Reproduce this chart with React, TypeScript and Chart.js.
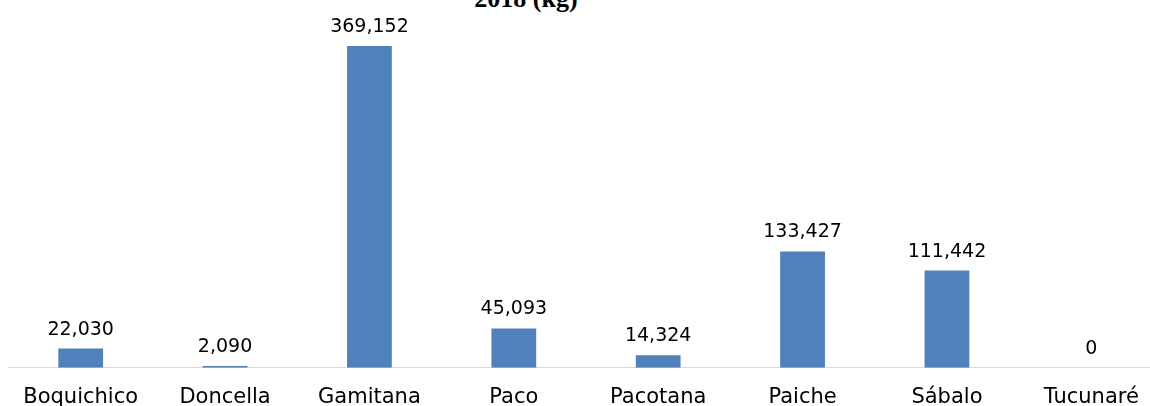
import { useEffect, useRef } from "react";
import { Chart, registerables } from "chart.js";

Chart.register(...registerables);

const species = ["Boquichico", "Doncella", "Gamitana", "Paco", "Pacotana", "Paiche", "Sábalo", "Tucunaré"];
const production = [22030, 2090, 369152, 45093, 14324, 133427, 111442, 0];
const titleLines = ["Producción de especies amazónicas", "2018 (kg)"];

const labelFont = "'DejaVu Sans', sans-serif";

// value labels over each bar
const barValues = {
  id: "barValues",
  afterDatasetsDraw(chart: any) {
    const ctx = chart.ctx;
    const meta = chart.getDatasetMeta(0);
    ctx.save();
    ctx.font = `19px ${labelFont}`;
    ctx.fillStyle = "#000";
    ctx.textAlign = "center";
    ctx.textBaseline = "alphabetic";
    meta.data.forEach((bar: any, i: number) => {
      ctx.fillText(production[i].toLocaleString("en-US"), bar.x, bar.y - 14);
    });
    ctx.restore();
  },
};

const App = () => {
  const canvasRef = useRef<any>();

  useEffect(() => {
    const config: any = {
      type: "bar",
      data: {
        labels: species,
        datasets: [
          {
            data: production,
            backgroundColor: "#4F81BD",
            categoryPercentage: 1,
            barPercentage: 0.31,
          },
        ],
      },
      options: {
        animation: false,
        responsive: false,
        devicePixelRatio: 1,
        layout: { padding: { top: 19, left: 8.5, right: 6.5, bottom: 3 } },
        plugins: {
          legend: { display: false },
          tooltip: { enabled: false },
        },
        scales: {
          x: {
            grid: { display: false },
            border: { color: "#d9d9d9", width: 1 },
            ticks: {
              color: "#000",
              padding: 9,
              maxRotation: 0,
              font: { family: labelFont, size: 21, lineHeight: 1.2 },
            },
          },
          y: {
            display: false,
            min: 0,
            max: 400000,
          },
        },
      },
      plugins: [barValues],
    };
    const chart = new Chart(canvasRef.current, config);
    return () => {
      chart.destroy();
    };
  }, []);

  return (
    <div
      style={{
        position: "absolute",
        left: 0,
        top: 0,
        width: 1150,
        height: 406,
        overflow: "hidden",
        background: "#fff",
      }}
    >
      <div
        style={{
          position: "absolute",
          left: 226,
          width: 600,
          top: -48,
          textAlign: "center",
          fontFamily: "'Liberation Serif', serif",
          fontWeight: "bold",
          fontSize: 26,
          lineHeight: "31px",
          color: "#000",
        }}
      >
        {titleLines.map((t) => (
          <div key={t}>{t}</div>
        ))}
      </div>
      <canvas ref={canvasRef} width={1170} height={422} style={{ position: "absolute", left: 0, top: 0 }} />
    </div>
  );
};

export default App;
